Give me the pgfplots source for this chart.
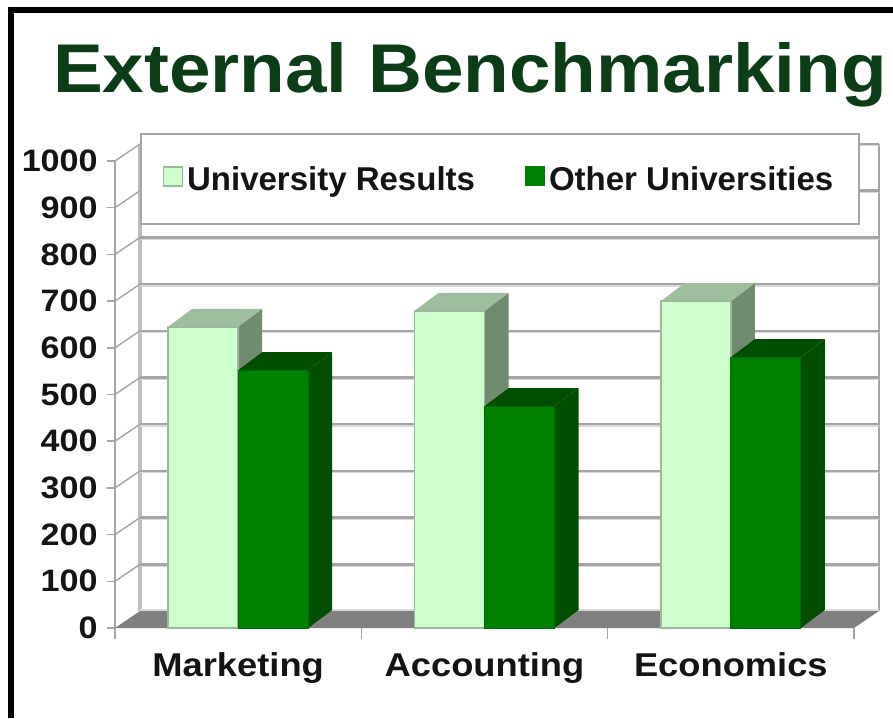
\documentclass[border=0pt]{standalone}
\usepackage{fontspec}
\setmainfont{Liberation Sans}
\usepackage{pgfplots}
\pgfplotsset{compat=1.18}
\definecolor{titlegreen}{HTML}{0B3D16}
\definecolor{lightbar}{HTML}{CCFFCC}
\definecolor{lighttop}{HTML}{9DBF9D}
\definecolor{lightside}{HTML}{6F8C6F}
\definecolor{lightedge}{HTML}{9DB89D}
\definecolor{darkbar}{HTML}{008000}
\definecolor{darkface}{HTML}{004F00}
\definecolor{floorgray}{HTML}{808080}
\definecolor{gridgray}{HTML}{A6A4A6}
\definecolor{wallgray}{HTML}{BDBDBD}
% draws the top and side of a bar: left, right, value, top colour, side colour
\newcommand\depthbar[5]{%
  \pgfmathsetmacro\xlb{#1+0.0974}%
  \pgfmathsetmacro\xrb{#2+0.0974}%
  \pgfmathsetmacro\vb{#3+38.5}%
  \addplot[fill=#5,draw=none,forget plot] coordinates {(#2,0) (\xrb,38.5) (\xrb,\vb) (#2,#3)} --cycle;
  \addplot[fill=#4,draw=none,forget plot] coordinates {(#1,#3) (\xlb,\vb) (\xrb,\vb) (#2,#3)} --cycle;
}
\begin{document}
\begin{tikzpicture}[x=1pt,y=1pt]
\path[use as bounding box] (0,0) rectangle (893,718);
\draw[black,line width=6.5pt] (11,0) -- (11,708) -- (893,708);
\node[anchor=base,font=\fontsize{69}{69}\selectfont\bfseries,text=titlegreen,inner sep=0pt,xscale=1.082] at (470,625) {External Benchmarking};
\begin{axis}[
  at={(115pt,90pt)},anchor=south west,
  scale only axis,width=739pt,height=467pt,
  xmin=-0.5,xmax=2.5,ymin=0,ymax=1000,
  clip=false,
  axis line style={draw=none},
  xtick={0,1,2},xticklabels={Marketing,Accounting,Economics},
  minor xtick={-0.5,0.5,1.5,2.5},
  ytick={0,100,...,1000},
  xtick pos=bottom,ytick pos=left,
  tick align=outside,
  major tick length=8pt,minor tick length=11pt,
  major x tick style={draw=none},
  minor x tick style={draw=gridgray,line width=1.5pt},
  ytick style={draw=gridgray,line width=1.5pt},
  y tick label style={font=\fontsize{31}{31}\selectfont\bfseries,text=black!92,xscale=1.1,
    /pgf/number format/assume math mode=true,
    /pgf/number format/set thousands separator={},xshift=-5pt},
  x tick label style={font=\fontsize{33}{33}\selectfont\bfseries,text=black!92,anchor=base,yshift=-40pt,xscale=1.1},
  legend columns=2,
  legend cell align=left,
  legend style={at={(0.0338,1.06)},anchor=north west,
    draw=gridgray,line width=2pt,fill=white,
    minimum width=718pt,minimum height=90pt,
    nodes={minimum width=0pt,minimum height=0pt,inner sep=4pt,yshift=-2pt},
    font=\fontsize{33}{33}\selectfont\bfseries,text=black!92,
    /tikz/every even column/.style={column sep=46pt}},
]
% walls and gridlines, on the back plane of the chart
\addplot[wallgray,line width=3.5pt,forget plot] coordinates {(-0.3985,36.4) (-0.3985,1036.4)};
\addplot[gridgray,line width=2.5pt,forget plot] coordinates {(-0.5,0) (-0.5,1000)};
\addplot[gridgray,line width=2.5pt,forget plot] coordinates {(2.6015,36.4) (2.6015,1036.4)};
\pgfplotsinvokeforeach{100,200,300,400,500,600,700,800,900,1000}{%
  \pgfmathsetmacro\yb{#1+36.4}%
  \pgfmathsetmacro\ys{#1+33.4}%
  \addplot[black!15,line width=2pt,forget plot] coordinates {(-0.3985,\ys) (2.6015,\ys)};
  \addplot[gridgray,line width=2.4pt,forget plot] coordinates {(-0.3985,\yb) (2.6015,\yb)};
  \addplot[gridgray,line width=1.4pt,forget plot] coordinates {(-0.5,#1) (-0.3985,\yb)};
}
% floor
\addplot[fill=floorgray,draw=none,forget plot] coordinates {(-0.5,0) (2.5,0) (2.6015,36.4) (-0.3985,36.4)} --cycle;
\addplot[black!15,line width=2pt,forget plot] coordinates {(-0.3985,39) (2.6015,39)};
% top and side faces of the bars
\depthbar{-0.2842}{0}{645}{lighttop}{lightside}
\depthbar{0}{0.2842}{552}{darkface}{darkface}
\depthbar{0.7158}{1}{679}{lighttop}{lightside}
\depthbar{1}{1.2842}{475}{darkface}{darkface}
\depthbar{1.7158}{2}{700}{lighttop}{lightside}
\depthbar{2}{2.2842}{580}{darkface}{darkface}
% front faces
\addplot[ybar,bar width=70pt,bar shift=-35pt,fill=lightbar,draw=lightedge,line width=1.5pt,
  legend image code/.code={\draw[fill=lightbar,draw=lightedge,line width=1.5pt] (0pt,-9pt) rectangle (19pt,10pt);}]
  coordinates {(0,645) (1,679) (2,700)};
\addlegendentry{University Results}
\addplot[ybar,bar width=70pt,bar shift=35pt,fill=darkbar,draw=darkbar!85!black,line width=1pt,
  legend image code/.code={\draw[fill=darkbar,draw=darkbar] (0pt,-9pt) rectangle (19pt,10pt);}]
  coordinates {(0,552) (1,475) (2,580)};
\addlegendentry{Other Universities}
\end{axis}
\end{tikzpicture}
\end{document}
